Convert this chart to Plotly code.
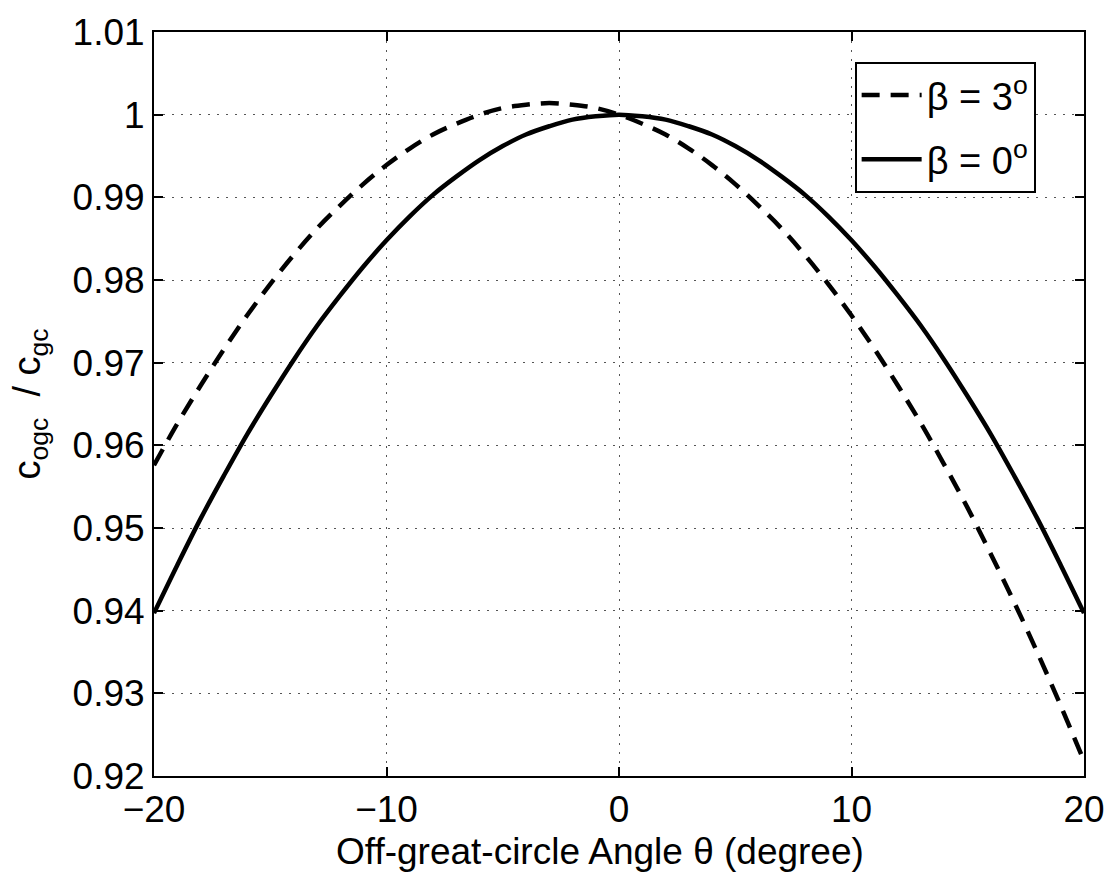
import plotly.graph_objects as go

theta = list(range(-20, 21))

ratio_beta0 = [0.9397, 0.9455, 0.9511, 0.9563, 0.9613, 0.9659, 0.9703, 0.9744, 0.9781, 0.9816,
               0.9848, 0.9877, 0.9903, 0.9925, 0.9945, 0.9962, 0.9976, 0.9986, 0.9994, 0.9998,
               1.0000,
               0.9998, 0.9994, 0.9986, 0.9976, 0.9962, 0.9945, 0.9925, 0.9903, 0.9877, 0.9848,
               0.9816, 0.9781, 0.9744, 0.9703, 0.9659, 0.9613, 0.9563, 0.9511, 0.9455, 0.9397]

ratio_beta3 = [0.9576, 0.9626, 0.9672, 0.9716, 0.9757, 0.9795, 0.9830, 0.9862, 0.9890, 0.9916,
               0.9939, 0.9959, 0.9976, 0.9989, 1.0000, 1.0008, 1.0012, 1.0014, 1.0012, 1.0008,
               1.0000,
               0.9989, 0.9976, 0.9959, 0.9939, 0.9916, 0.9890, 0.9862, 0.9830, 0.9795, 0.9757,
               0.9716, 0.9672, 0.9626, 0.9576, 0.9524, 0.9468, 0.9410, 0.9349, 0.9285, 0.9218]

x_ticks = [-20, -10, 0, 10, 20]
y_ticks = [0.92, 0.93, 0.94, 0.95, 0.96, 0.97, 0.98, 0.99, 1.00, 1.01]
y_tick_labels = ["0.92", "0.93", "0.94", "0.95", "0.96", "0.97", "0.98", "0.99", "1", "1.01"]
x_title = "Off-great-circle Angle θ (degree)"

font_family = "Liberation Sans, Arial, Helvetica, sans-serif"

fig = go.Figure()
fig.add_trace(go.Scatter(
    x=theta, y=ratio_beta3, mode="lines", name="β = 3<sup>o</sup>", legendgroup="b3",
    line=dict(color="black", width=4.5, dash="18px,11px", shape="spline"),
))
fig.add_trace(go.Scatter(
    x=theta, y=ratio_beta0, mode="lines", name="β = 0<sup>o</sup>", legendgroup="b0",
    line=dict(color="black", width=4.5, shape="spline"),
))

axis_common = dict(
    showline=True, linecolor="black", linewidth=2, mirror="ticks",
    ticks="inside", ticklen=9, tickwidth=2, tickcolor="black",
    showgrid=True, gridcolor="#555555", gridwidth=1, griddash="2px,7px",
    zeroline=False,
    tickfont=dict(family=font_family, size=37, color="black"),
)

fig.update_xaxes(range=[-20, 20], tickvals=x_ticks, **axis_common)
fig.update_yaxes(
    range=[0.92, 1.01], tickvals=y_ticks, ticktext=y_tick_labels,
    title=dict(text="c<sub>ogc</sub>  / c<sub>gc</sub>",
               font=dict(family=font_family, size=38, color="black"), standoff=20),
    **axis_common,
)

fig.add_annotation(
    text=x_title, xref="paper", yref="paper", x=0.48, y=-0.1313,
    xanchor="center", yanchor="bottom", showarrow=False,
    font=dict(family=font_family, size=37, color="black"),
)

fig.update_layout(
    width=1117, height=875,
    margin=dict(l=154, r=27, t=23, b=99),
    plot_bgcolor="white", paper_bgcolor="white",
    showlegend=True,
    legend=dict(
        x=0.948, y=0.96, xanchor="right", yanchor="top",
        bgcolor="white", bordercolor="black", borderwidth=2,
        font=dict(family=font_family, size=38, color="black"),
        tracegroupgap=12, itemwidth=60,
    ),
)

fig.write_html("out.html")
